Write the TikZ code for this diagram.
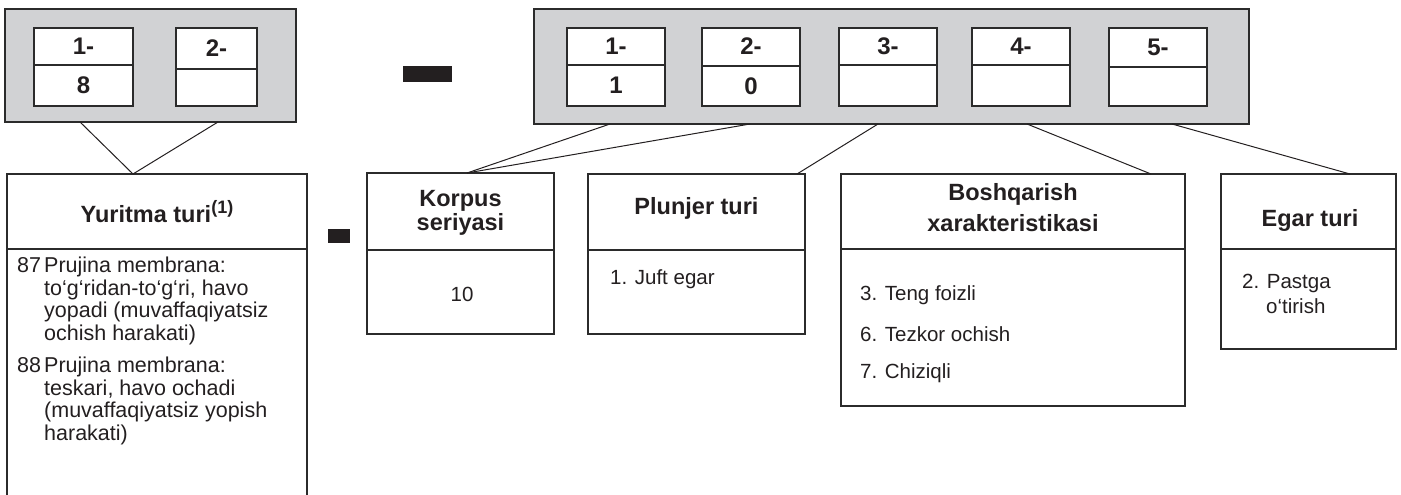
\documentclass[tikz,border=0pt]{standalone}
\usepackage{fontspec}
\setmainfont{Liberation Sans}
\usetikzlibrary{calc}
\definecolor{panel}{HTML}{D1D2D4}
\definecolor{edge}{HTML}{2B2B2B}
\definecolor{ink}{HTML}{231F20}
\tikzset{
  panelbox/.style={draw=edge, fill=panel, line width=1.2pt, inner sep=0pt, outer sep=0pt, anchor=north west},
  cell/.style={draw=edge, fill=white, line width=1.2pt, inner sep=0pt, outer sep=0pt, anchor=north west, minimum width=98pt, minimum height=78pt},
  infobox/.style={draw=edge, line width=1.2pt, inner sep=0pt, outer sep=0pt, anchor=north west},
  divider/.style={draw=edge, line width=1.2pt},
  conn/.style={draw=ink, line width=1pt},
  celltxt/.style={font=\fontsize{24}{24}\selectfont\bfseries, text=ink, inner sep=0pt},
  titletxt/.style={font=\fontsize{23.5}{26}\selectfont\bfseries, text=ink, align=center, inner sep=0pt},
  bodytxt/.style={font=\fontsize{20.5}{22.5}\selectfont, text=ink, inner sep=0pt, align=left},
  leftbody/.style={font=\fontsize{21.5}{22.5}\selectfont, text=ink, inner sep=0pt, align=left, anchor=north west},
  dashbar/.style={fill=ink, draw=none, inner sep=0pt, outer sep=0pt, anchor=north west},
}
\begin{document}
\begin{tikzpicture}[x=1pt,y=-1pt]
\useasboundingbox (0,0) rectangle (1401,495);

% ---------- left panel ----------
\node[panelbox, minimum width=291pt, minimum height=113pt] (lp) at (5,9) {};
\node[cell, minimum width=99pt] (l1) at (34,28) {};
\node[cell, minimum width=81pt] (l2) at (176,28) {};
\draw[divider] (l1.west |- 0,65) -- (l1.east |- 0,65);
\draw[divider] (l2.west |- 0,69) -- (l2.east |- 0,69);
\node[celltxt] (l1a) at (83.5,46) {1-};
\node[celltxt] (l1b) at (83.5,85) {8};
\node[celltxt] (l2a) at (216.5,48) {2-};

% ---------- dashes ----------
\node[dashbar, minimum width=49pt, minimum height=16pt] (bigdash) at (403,66) {};
\node[dashbar, minimum width=22pt, minimum height=14pt] (smalldash) at (328,229) {};

% ---------- right panel ----------
\node[panelbox, minimum width=715pt, minimum height=115pt] (rp) at (534,9) {};
\node[cell] (r1) at (567,28) {};
\node[cell] (r2) at (702,28) {};
\node[cell] (r3) at (839,28) {};
\node[cell] (r4) at (972,28) {};
\node[cell] (r5) at (1109,28) {};
\draw[divider] (r1.west |- 0,65) -- (r1.east |- 0,65);
\draw[divider] (r2.west |- 0,66) -- (r2.east |- 0,66);
\draw[divider] (r3.west |- 0,65) -- (r3.east |- 0,65);
\draw[divider] (r4.west |- 0,65) -- (r4.east |- 0,65);
\draw[divider] (r5.west |- 0,67) -- (r5.east |- 0,67);
\node[celltxt] (r1a) at (616,46) {1-};
\node[celltxt] (r1b) at (616,85) {1};
\node[celltxt] (r2a) at (751,46) {2-};
\node[celltxt] (r2b) at (751,86) {0};
\node[celltxt] (r3a) at (888,46) {3-};
\node[celltxt] (r4a) at (1021,46) {4-};
\node[celltxt] (r5a) at (1158,47) {5-};

% ---------- Yuritma turi ----------
\node[infobox, minimum width=300pt, minimum height=340pt] (yur) at (7,174) {};
\draw[divider] (yur.west |- 0,249) -- (yur.east |- 0,249);
\node[titletxt, anchor=base] (yurt) at (157,222) {Yuritma turi\raisebox{9pt}{\fontsize{18}{18}\selectfont\bfseries(1)}};
\node[leftbody] (n87) at (17,257) {87};
\node[leftbody] (t87) at (44,257) {Prujina membrana:\\to‘g‘ridan-to‘g‘ri, havo\\yopadi (muvaffaqiyatsiz\\ochish harakati)};
\node[leftbody] (n88) at (17,357) {88};
\node[leftbody] (t88) at (44,357) {Prujina membrana:\\teskari, havo ochadi\\(muvaffaqiyatsiz yopish\\harakati)};

% ---------- Korpus seriyasi ----------
\node[infobox, minimum width=187pt, minimum height=161pt] (kor) at (367,173) {};
\draw[divider] (kor.west |- 0,250) -- (kor.east |- 0,250);
\node[titletxt, font=\fontsize{23.5}{24}\selectfont\bfseries] (kort) at (460.5,213) {Korpus\\seriyasi};
\node[bodytxt] (korb) at (462,294) {10};

% ---------- Plunjer turi ----------
\node[infobox, minimum width=217pt, minimum height=160pt] (plu) at (588,174) {};
\draw[divider] (plu.west |- 0,250) -- (plu.east |- 0,250);
\node[titletxt] (plut) at (696.5,208) {Plunjer turi};
\node[bodytxt, anchor=west] (plub) at (610,279) {1. Juft egar};

% ---------- Boshqarish xarakteristikasi ----------
\node[infobox, minimum width=344pt, minimum height=232pt] (bos) at (841,174) {};
\draw[divider] (bos.west |- 0,249) -- (bos.east |- 0,249);
\node[titletxt, font=\fontsize{23.5}{31}\selectfont\bfseries] (bost) at (1013,208) {Boshqarish\\xarakteristikasi};
\node[bodytxt, anchor=west] (bos3) at (860,295) {3. Teng foizli};
\node[bodytxt, anchor=west] (bos6) at (860,334) {6. Tezkor ochish};
\node[bodytxt, anchor=west] (bos7) at (860,373) {7. Chiziqli};

% ---------- Egar turi ----------
\node[infobox, minimum width=175pt, minimum height=175pt] (ega) at (1221,174) {};
\draw[divider] (ega.west |- 0,249) -- (ega.east |- 0,249);
\node[titletxt] (egat) at (1310,220) {Egar turi};
\node[bodytxt, anchor=west] (ega2) at (1242,283) {2. Pastga};
\node[bodytxt, anchor=west] (ega2b) at (1266,306) {o‘tirish};

% ---------- connectors ----------
\draw[conn] ($(lp.south west)+(75,0)$) -- ($(yur.north west)+(126,0)$);
\draw[conn] ($(lp.south west)+(213,0)$) -- ($(yur.north west)+(126,0)$);
\draw[conn] ($(rp.south west)+(76,0)$) -- ($(kor.north west)+(100,0)$);
\draw[conn] ($(rp.south west)+(216,0)$) -- ($(kor.north west)+(100,0)$);
\draw[conn] ($(rp.south west)+(344,0)$) -- ($(plu.north west)+(209,0)$);
\draw[conn] ($(rp.south west)+(493,0)$) -- ($(bos.north west)+(310,0)$);
\draw[conn] ($(rp.south west)+(638,0)$) -- ($(ega.north west)+(129,0)$);
\end{tikzpicture}
\end{document}
